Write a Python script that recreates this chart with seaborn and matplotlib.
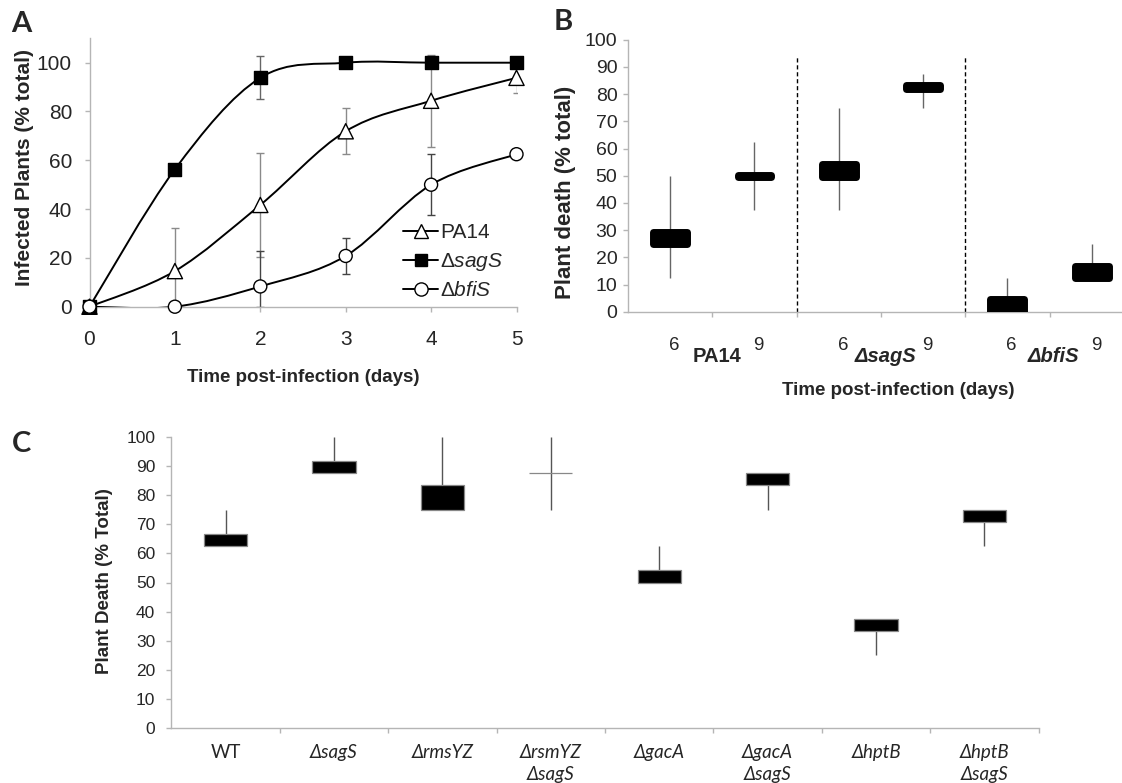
import numpy as np
import pandas as pd
import matplotlib
matplotlib.use('Agg')
import matplotlib.pyplot as plt
from matplotlib.path import Path
from matplotlib.patches import PathPatch
from matplotlib.lines import Line2D
import seaborn as sns

# --- Panel A: infected plants (% total) per day ---
days = [0, 1, 2, 3, 4, 5]
pa14_mean = [0, 14.6, 41.7, 71.9, 84.4, 93.8]
pa14_err = [0, 17.7, 21.3, 9.4, 18.8, 6.3]
sags_mean = [0, 56.3, 93.8, 100, 100, 100]
sags_err = [0, 0, 8.8, 0, 0, 0]
bfis_mean = [0, 0, 8.3, 20.8, 50, 62.5]
bfis_err = [0, 0, 14.4, 7.2, 12.5, 0]

# --- Panel B: plant death at day 6 / 9 ---
b_days = ['6', '9', '6', '9', '6', '9']
b_groups = ['PA14', 'ΔsagS', 'ΔbfiS']
b_box_low = [25, 49.7, 49.6, 81.7, 0, 12.3]
b_box_high = [29.2, 50.3, 54.3, 83.5, 4.6, 16.9]
b_whisk_low = [12.5, 37.5, 37.5, 75, 0, 12.5]
b_whisk_high = [50, 62.5, 75, 87.5, 12.5, 25]

# --- Panel C: plant death per strain ---
c_strains = ['WT', 'ΔsagS', 'ΔrmsYZ', 'ΔrsmYZ\nΔsagS', 'ΔgacA',
             'ΔgacA\nΔsagS', 'ΔhptB', 'ΔhptB\nΔsagS']
c_box_low = [62.5, 87.5, 75, 87.5, 50, 83.3, 33.3, 70.8]
c_box_high = [66.7, 91.7, 83.3, 87.5, 54.2, 87.5, 37.5, 75]
c_whisk_low = [62.5, 87.5, 75, 75, 50, 75, 25, 62.5]
c_whisk_high = [75, 100, 100, 100, 62.5, 87.5, 37.5, 75]


def smooth_path(x, y):
    # Excel-like smoothed line (Catmull-Rom as cubic Bezier)
    x = np.asarray(x, float)
    y = np.asarray(y, float)
    n = len(x)
    verts = [(x[0], y[0])]
    codes = [Path.MOVETO]
    for i in range(n - 1):
        i0 = max(i - 1, 0)
        i3 = min(i + 2, n - 1)
        c1 = (x[i] + (x[i + 1] - x[i0]) / 6, y[i] + (y[i + 1] - y[i0]) / 6)
        c2 = (x[i + 1] - (x[i3] - x[i]) / 6, y[i + 1] - (y[i3] - y[i]) / 6)
        verts += [c1, c2, (x[i + 1], y[i + 1])]
        codes += [Path.CURVE4] * 3
    return Path(verts, codes)


sns.set_style('ticks')
plt.rcParams['font.family'] = ['Liberation Sans', 'DejaVu Sans']
plt.rcParams['mathtext.fontset'] = 'custom'
plt.rcParams['mathtext.rm'] = 'Liberation Sans'
plt.rcParams['mathtext.it'] = 'Liberation Sans:italic'
plt.rcParams['mathtext.bf'] = 'Liberation Sans:bold'

W, H = 1122, 783
fig = plt.figure(figsize=(W / 100, H / 100), dpi=100)


def px_axes(left, top, right, bottom):
    return fig.add_axes([left / W, 1 - bottom / H, (right - left) / W, (bottom - top) / H])


spine_col = '#b5b5b5'


def style_axes(ax):
    for s in ['top', 'right']:
        ax.spines[s].set_visible(False)
    for s in ['left', 'bottom']:
        ax.spines[s].set_color(spine_col)
        ax.spines[s].set_linewidth(1)
    ax.tick_params(which='both', color=spine_col, length=3.6, width=1, direction='out')


# ================= Panel A =================
axa = px_axes(89.5, 38.3, 516.5, 306.7)
style_axes(axa)

series = [('PA14', pa14_mean, pa14_err, '#8a8a8a'),
          ('ΔsagS', sags_mean, sags_err, '#666666'),
          ('ΔbfiS', bfis_mean, bfis_err, '#444444')]
for name, m, e, ecol in series:
    m = np.array(m, float)
    e = np.array(e, float)
    axa.errorbar(days, m, yerr=[np.minimum(e, m), e], fmt='none', ecolor=ecol,
                 elinewidth=1, capsize=3, capthick=1, zorder=2)
    axa.add_patch(PathPatch(smooth_path(days, m), facecolor='none',
                            edgecolor='black', lw=1.4, zorder=3))

dfa = pd.DataFrame({
    'day': days * 3,
    'value': pa14_mean + sags_mean + bfis_mean,
    'strain': ['PA14'] * 6 + ['ΔsagS'] * 6 + ['ΔbfiS'] * 6,
})
sns.scatterplot(data=dfa, x='day', y='value', hue='strain', style='strain', size='strain',
                palette={'PA14': 'white', 'ΔsagS': 'black', 'ΔbfiS': 'white'},
                markers={'PA14': '^', 'ΔsagS': 's', 'ΔbfiS': 'o'},
                sizes={'PA14': 120, 'ΔsagS': 88, 'ΔbfiS': 88},
                edgecolor='black', linewidth=1, legend=False, zorder=4,
                clip_on=False, ax=axa)

axa.set_xlim(0, 5)
axa.set_ylim(0, 110)
axa.set_xticks(days)
axa.set_yticks(range(0, 101, 20))
axa.tick_params(axis='both', labelsize=15)
axa.tick_params(axis='y', pad=9)
axa.tick_params(axis='x', pad=13)
axa.set_xlabel('Time post-infection (days)', fontsize=13.5, fontweight='bold', va='center')
axa.xaxis.set_label_coords(0.5, -0.265)
axa.set_ylabel('Infected Plants (% total)', fontsize=15, fontweight='bold', va='center')
axa.yaxis.set_label_coords(-0.153, 0.52)

handles = [
    Line2D([0], [0], color='black', lw=1.4, marker='^', mfc='white', mec='black', ms=10.5),
    Line2D([0], [0], color='black', lw=1.4, marker='s', mfc='black', mec='black', ms=9),
    Line2D([0], [0], color='black', lw=1.4, marker='o', mfc='white', mec='black', ms=9.5),
]
labels = ['PA14', r'$\Delta\mathit{sagS}$', r'$\Delta\mathit{bfiS}$']
axa.legend(handles, labels, loc='upper left', bbox_to_anchor=(0.735, 0.31), frameon=False,
           fontsize=15, handlelength=1.65, handletextpad=0.12, labelspacing=0.4,
           borderpad=0, borderaxespad=0)

# ================= Panel B =================
axb = px_axes(628, 39.7, 1133.8, 311.7)
style_axes(axb)
xb = np.arange(len(b_days))
axb.vlines(xb, b_whisk_low, b_whisk_high, colors='#666666', lw=1, zorder=2)
bars = axb.bar(xb, np.subtract(b_box_high, b_box_low), bottom=b_box_low, width=0.40,
               color='black', edgecolor='black', linewidth=5, zorder=3)
for p in bars:
    p.set_joinstyle('round')
axb.vlines([1.5, 3.5], 0, 93.5, colors='black', linestyles=(0, (3, 2)), lw=1, zorder=1)

axb.set_xlim(-0.5, 5.5)
axb.set_ylim(0, 100)
axb.set_yticks(range(0, 101, 10))
axb.tick_params(axis='y', labelsize=14, pad=4)
axb.set_xticks(xb + 0.05, b_days)
axb.set_xticks(np.arange(0.5, 5.6, 1), minor=True)
axb.tick_params(axis='x', which='major', length=0, labelsize=13.5, pad=18)
for i, g in enumerate(b_groups):
    axb.text(2 * i + 0.55, -0.165, g, transform=axb.get_xaxis_transform(),
             ha='center', va='center', fontsize=14.5, fontweight='bold',
             fontstyle='normal' if i == 0 else 'italic')
axb.set_xlabel('Time post-infection (days)', fontsize=13.5, fontweight='bold', va='center')
axb.xaxis.set_label_coords(0.534, -0.288)
axb.set_ylabel('Plant death (% total)', fontsize=16, fontweight='bold', va='center')
axb.yaxis.set_label_coords(-0.123, 0.44)

# ================= Panel C =================
axc = px_axes(171.4, 436.7, 1038.6, 728.3)
style_axes(axc)
xc = np.arange(len(c_strains))
axc.vlines(xc, c_whisk_low, c_whisk_high, colors='#555555', lw=1, zorder=2)
axc.bar(xc, np.subtract(c_box_high, c_box_low), bottom=c_box_low, width=0.40,
        color='black', edgecolor='#888888', linewidth=0.9, zorder=3)
axc.set_xlim(-0.5, 7.5)
axc.set_ylim(0, 100)
axc.set_yticks(range(0, 101, 10))
axc.tick_params(axis='y', labelsize=12.5, pad=8)
axc.set_xticks(xc, c_strains)
axc.set_xticks(np.arange(0.5, 7.6, 1), minor=True)
axc.tick_params(axis='x', which='major', length=0, pad=11)
for lab in axc.get_xticklabels():
    lab.set_family(['Lato', 'DejaVu Sans'])
    lab.set_fontstyle('normal' if lab.get_text() == 'WT' else 'italic')
    lab.set_fontsize(13.5)
    lab.set_linespacing(1.4)
    lab.set_va('top')
axc.set_ylabel('Plant Death (% Total)', fontsize=13.5, fontweight='bold', va='center')
axc.yaxis.set_label_coords(-0.0766, 0.505)

# panel letters
for letter, x, y in [('A', 11, 32), ('B', 554, 30), ('C', 12, 452)]:
    fig.text(x / W, 1 - y / H, letter, fontsize=21, fontweight='bold',
             family=['Lato', 'DejaVu Sans'], va='baseline', ha='left')

fig.savefig('out.png', dpi=100)
